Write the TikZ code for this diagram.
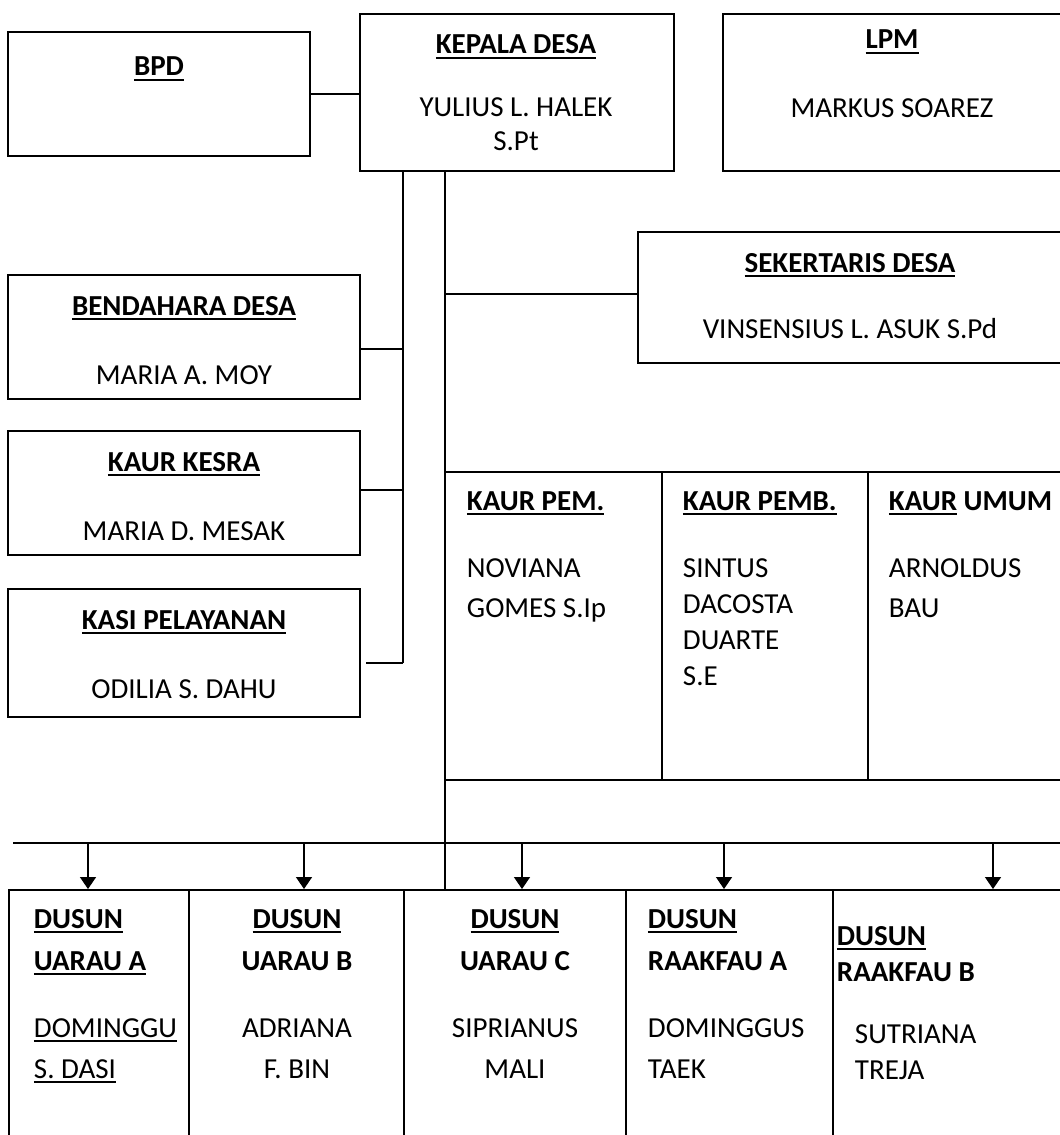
\documentclass[tikz,border=0pt]{standalone}
\usepackage{fontspec}
\setmainfont{Carlito}
\usetikzlibrary{fit,arrows.meta}
\newcommand{\ukuran}{\fontsize{16.5}{20}\selectfont}
\newsavebox{\kotakgaris}
\newcommand{\garis}[1]{\sbox{\kotakgaris}{#1}\rlap{\rule[-2.9pt]{\wd\kotakgaris}{1.1pt}}\usebox{\kotakgaris}}

\begin{document}
\begin{tikzpicture}[x=0.02cm,y=-0.02cm,line width=1.1pt,
  kotak/.style={draw,inner sep=0pt},
  jdl/.style={font=\ukuran\bfseries,inner sep=0pt,anchor=base},
  nama/.style={font=\ukuran,inner sep=0pt,anchor=base},
  panah/.style={line width=0.75pt,-{Triangle[width=3.2mm,length=2.4mm]}}]
\useasboundingbox (0,0) rectangle (1060,1135);
\clip (0,0) rectangle (1060,1135);
%
\node[kotak,fit={(8,32)(310,156)}] (bpd) {};
\node[kotak,fit={(360,14)(674,171)}] (kepala) {};
\node[kotak,fit={(723,14)(1066,171)}] (lpm) {};
\node[jdl] (tbpd) at (159,76) {\garis{BPD}};
\node[jdl] (tkepala) at (516,54) {\garis{KEPALA DESA}};
\node[nama] (nkepala1) at (516,117) {YULIUS L. HALEK};
\node[nama] (nkepala2) at (516,151) {S.Pt};
\node[jdl] (tlpm) at (892,49) {\garis{LPM}};
\node[nama] (nlpm) at (892,118) {MARKUS SOAREZ};
\draw (bpd.east) -- (bpd.east -| kepala.west);
%
\node[kotak,fit={(638,232)(1066,363)}] (sekdes) {};
\node[jdl] (tsekdes) at (850,272) {\garis{SEKERTARIS DESA}};
\node[nama] (nsekdes) at (850,338) {VINSENSIUS L. ASUK S.Pd};
%
\foreach \n/\y/\h/\judul/\isi in {bend/275/124/BENDAHARA DESA/MARIA A. MOY,kesra/431/124/KAUR KESRA/MARIA D. MESAK,kasi/589/128/KASI PELAYANAN/ODILIA S. DAHU}{
\node[kotak,fit={(8,\y)(360,\y+\h)}] (\n) {};
\node[jdl] (t\n) at (184,\y+40) {\garis{\judul}};
\node[nama] (n\n) at (184,\y+109) {\isi};
}
%
\coordinate (kl) at (kepala.south -| 403,0);
\coordinate (kr) at (kepala.south -| 445,0);
\coordinate (jb) at (403,349);
\coordinate (jk) at (403,490);
\coordinate (jp) at (403,663);
\coordinate (js) at (445,294);
\draw (kl) -- (jp);
\draw (jb) -- (jb -| bend.east);
\draw (jk) -- (jk -| kesra.east);
\draw[shorten >=1mm] (jp) -- (jp -| kasi.east);
\draw (js) -- (js -| sekdes.west);
%===========================
\node[kotak,fit={(445,472)(662,780)}] (pem) {};
\node[kotak,fit={(662,472)(868,780)}] (pemb) {};
\node[kotak,fit={(868,472)(1066,780)}] (umum) {};
\node[jdl,anchor=base west] (tpem) at (466,510) {\garis{KAUR PEM.}};
\node[jdl,anchor=base west] (tpemb) at (682,510) {\garis{KAUR PEMB.}};
\node[jdl,anchor=base west] (tumum) at (888,510) {\garis{KAUR} UMUM};
\foreach \x/\y/\isi in {466/577/NOVIANA,466/617/GOMES S.Ip,682/577/SINTUS,682/613/DACOSTA,682/649/DUARTE,682/685/S.E,888/577/ARNOLDUS,888/617/BAU}
  \node[nama,anchor=base west] (nk-\x-\y) at (\x,\y) {\isi};
%================================
\foreach \n/\xa/\xb in {d1/9/189,d2/189/404,d3/404/626,d4/626/833,d5/833/1066}
  \node[kotak,fit={(\xa,890)(\xb,1150)}] (\n) {};
\draw (kr) -- (kr |- d3.north);
\coordinate (busL) at (13,843);
\coordinate (busR) at (1066,843);
\draw (busL) -- (busR);
\foreach \x/\n in {88/d1,304/d2,522/d3,724/d4,993/d5}
  \draw[panah] (busL -| \x,0) -- (\x,0 |- \n.north);
%
\foreach \n/\x/\a/\y in {d1/33/base west/928,d2/297/base/928,d3/515/base/928,d4/647/base west/928,d5/836/base west/945}
  \node[jdl,anchor=\a] (t\n) at (\x,\y) {\garis{DUSUN}};
\node[jdl,anchor=base west] (wd1) at (33,970) {\garis{UARAU A}};
\node[nama,anchor=base west] (nd1a) at (33,1037) {\garis{DOMINGGU}};
\node[nama,anchor=base west] (nd1b) at (33,1078) {\garis{S. DASI}};
\node[jdl] (wd2) at (297,970) {UARAU B};
\node[nama] (nd2a) at (297,1037) {ADRIANA};
\node[nama] (nd2b) at (297,1078) {F. BIN};
\node[jdl] (wd3) at (515,970) {UARAU C};
\node[nama] (nd3a) at (515,1037) {SIPRIANUS};
\node[nama] (nd3b) at (515,1078) {MALI};
\node[jdl,anchor=base west] (wd4) at (647,970) {RAAKFAU A};
\node[nama,anchor=base west] (nd4a) at (647,1037) {DOMINGGUS};
\node[nama,anchor=base west] (nd4b) at (647,1078) {TAEK};
\node[jdl,anchor=base west] (wd5) at (836,981) {RAAKFAU B};
\node[nama,anchor=base west] (nd5a) at (854,1043) {SUTRIANA};
\node[nama,anchor=base west] (nd5b) at (854,1079) {TREJA};
\end{tikzpicture}
\end{document}
